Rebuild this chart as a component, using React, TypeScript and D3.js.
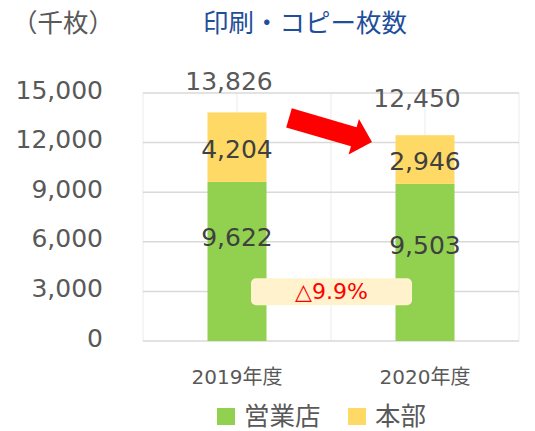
import React from "react";
import * as d3 from "d3";

const categories = ["2019年度", "2020年度"];
const seriesNames = ["営業店", "本部"];
const eigyoten = [9622, 9503];
const honbu = [4204, 2946];
const totals = [13826, 12450];
const yTicks = [0, 3000, 6000, 9000, 12000, 15000];
const title = "印刷・コピー枚数";
const unitLabel = "（千枚）";
const changeLabel = "△9.9%";
const colors = ["#92D050", "#FFD966"];

const W = 535;
const H = 431;
const FONT = "'DejaVu Sans', 'Noto Sans CJK JP', sans-serif";

export default function App() {
  const left = 143, right = 519, top = 93, bottom = 341;
  const y = d3.scaleLinear().domain([0, 15000]).range([bottom, top]);
  const x = d3.scaleBand<string>().domain(categories).range([left, right]).paddingInner(0).paddingOuter(0);
  const barW = 59;
  const fmt = d3.format(",");

  const stackData = categories.map((c, i) => ({ cat: c, a: eigyoten[i], b: honbu[i] }));
  const stack = d3.stack<any>().keys(["a", "b"])(stackData);

  const vLines = [0, 0.5, 1, 1.5, 2].map((k) => left + k * x.bandwidth());

  // arrow geometry (between bars)
  const cx0 = x(categories[0])! + x.bandwidth() / 2;
  const cx1 = x(categories[1])! + x.bandwidth() / 2;
  const tail: [number, number] = [cx0 + 52, y(13500)];
  const tip: [number, number] = [cx1 - 53, y(12000) - 0.5];
  const ang = Math.atan2(tip[1] - tail[1], tip[0] - tail[0]);
  const len = Math.hypot(tip[0] - tail[0], tip[1] - tail[1]);
  const sw = 10, hw = 18.5, hl = 19;
  const arrowPts: [number, number][] = [
    [0, -sw], [len - hl, -sw], [len - hl, -hw], [len, 0], [len - hl, hw], [len - hl, sw], [0, sw],
  ];
  const arrowPath = arrowPts
    .map(([px, py]) => [
      tail[0] + px * Math.cos(ang) - py * Math.sin(ang),
      tail[1] + px * Math.sin(ang) + py * Math.cos(ang),
    ])
    .map((p) => p.join(","))
    .join(" ");

  const boxX = 251, boxW = 161;
  const boxY = y(3800), boxH = 27;

  return (
    <svg width={W} height={H} style={{ position: "absolute", left: 0, top: 0, background: "#fff" }} fontFamily={FONT}>
      <rect width={W} height={H} fill="#fff" />
      {vLines.map((vx, i) => (
        <line key={"v" + i} x1={vx} x2={vx} y1={top} y2={bottom} stroke="#EBEBEB" strokeWidth={1} />
      ))}
      {yTicks.map((t) => (
        <line key={"h" + t} x1={left} x2={right} y1={y(t)} y2={y(t)} stroke="#D9D9D9" strokeWidth={1.5} />
      ))}
      {yTicks.map((t) => (
        <text key={"yl" + t} x={103} y={y(t) - 3} textAnchor="end" dominantBaseline="central" fontSize={25} fill="#595959">
          {fmt(t)}
        </text>
      ))}
      {stack.map((s, si) =>
        s.map((d, i) => (
          <rect
            key={si + "-" + i}
            x={x(categories[i])! + x.bandwidth() / 2 - barW / 2}
            width={barW}
            y={y(d[1])}
            height={y(d[0]) - y(d[1])}
            fill={colors[si]}
          />
        ))
      )}
      {categories.map((c, i) => (
        <g key={"lab" + i}>
          <text x={x(c)! + x.bandwidth() / 2} y={y(eigyoten[i] / 2) - (i === 0 ? 24 : 17)} textAnchor="middle" dominantBaseline="central" fontSize={25} fill="#404040">
            {fmt(eigyoten[i])}
          </text>
          <text x={x(c)! + x.bandwidth() / 2} y={y(eigyoten[i] + honbu[i] / 2) + 2} textAnchor="middle" dominantBaseline="central" fontSize={25} fill="#404040">
            {fmt(honbu[i])}
          </text>
          <text x={x(c)! + x.bandwidth() / 2 - 8} y={y(totals[i]) - (i === 0 ? 31 : 37)} textAnchor="middle" dominantBaseline="central" fontSize={25} fill="#595959">
            {fmt(totals[i])}
          </text>
          <text x={x(c)! + x.bandwidth() / 2} y={377} textAnchor="middle" dominantBaseline="central" fontSize={20} fill="#595959">
            {c}
          </text>
        </g>
      ))}
      <polygon points={arrowPath} fill="#FF0000" />
      <rect x={boxX} y={boxY} width={boxW} height={boxH} rx={5} fill="#FFF2CC" />
      <text x={boxX + boxW / 2} y={boxY + boxH / 2} textAnchor="middle" dominantBaseline="central" fontSize={22} fill="#FF0000">
        {changeLabel}
      </text>
      <text x={305} y={23} textAnchor="middle" dominantBaseline="central" fontSize={25.5} fill="#1F4E9A">
        {title}
      </text>
      <text x={63} y={23} textAnchor="middle" dominantBaseline="central" fontSize={25.5} fill="#595959">
        {unitLabel}
      </text>
      {seriesNames.map((n, i) => {
        const lx = i === 0 ? 217 : 348;
        return (
          <g key={"leg" + i}>
            <rect x={lx} y={408} width={18} height={17} fill={colors[i]} />
            <text x={lx + 27} y={416} dominantBaseline="central" fontSize={25.5} fill="#595959">
              {n}
            </text>
          </g>
        );
      })}
    </svg>
  );
}
